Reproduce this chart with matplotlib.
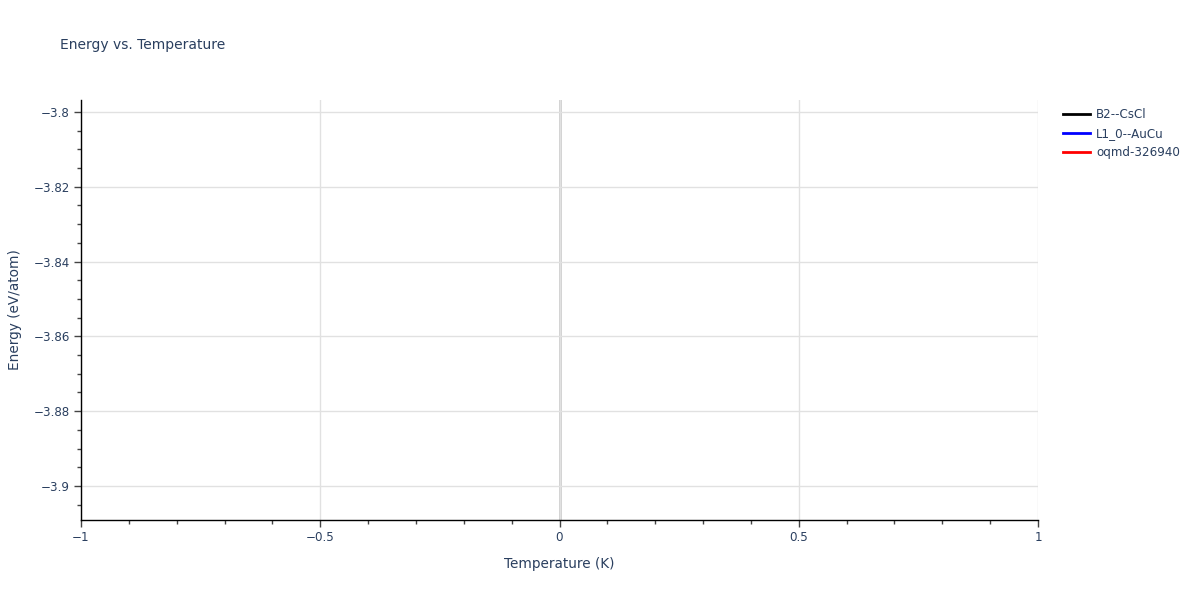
import matplotlib
matplotlib.use('Agg')
import matplotlib.pyplot as plt
from matplotlib.ticker import MultipleLocator, FuncFormatter

# one energy point per structure, all at T = 0 K
series_names = ["B2--CsCl", "L1_0--AuCu", "oqmd-326940"]
series_colors = ["black", "blue", "red"]
temperatures = [[0.0], [0.0], [0.0]]
energies = [[-3.802], [-3.904], [-3.851]]

TEXT = "#2a3f5f"
GRID = "#e1e1e1"

plt.rcParams['font.family'] = ['DejaVu Sans']
plt.rcParams['axes.unicode_minus'] = True

fig = plt.figure(figsize=(12, 6), dpi=100)
ax = fig.add_axes([81 / 1200, 80 / 600, (1038 - 81) / 1200, 420 / 600])

for name, color, t, e in zip(series_names, series_colors, temperatures, energies):
    ax.plot(t, e, color=color, lw=2, label=name)

ax.set_xlim(-1, 1)
ax.set_ylim(-3.9091, -3.7968)

ax.xaxis.set_major_locator(MultipleLocator(0.5))
ax.xaxis.set_minor_locator(MultipleLocator(0.1))
ax.yaxis.set_major_locator(MultipleLocator(0.02))
ax.yaxis.set_minor_locator(MultipleLocator(0.005))
fmt = FuncFormatter(lambda v, p: ("%g" % round(v, 6)).replace("-", "\u2212"))
ax.xaxis.set_major_formatter(fmt)
ax.yaxis.set_major_formatter(fmt)

ax.grid(True, which='major', color=GRID, lw=1)
ax.axvline(0, color="#cccccc", lw=2, zorder=0.5)
ax.set_axisbelow(True)

for side in ("top", "right"):
    ax.spines[side].set_visible(False)
for side in ("left", "bottom"):
    ax.spines[side].set_color("black")
    ax.spines[side].set_linewidth(1)

ax.tick_params(which='major', direction='out', length=5, width=1, color="#444444",
               labelcolor=TEXT, labelsize=8.6, pad=3)
ax.tick_params(which='minor', direction='out', length=3, width=1, color="#444444")

ax.set_xlabel("Temperature (K)", color=TEXT, fontsize=9.8, labelpad=9)
ax.set_ylabel("Energy (eV/atom)", color=TEXT, fontsize=9.8, labelpad=8)

fig.text(60 / 1200, 1 - 45 / 600, "Energy vs. Temperature", color=TEXT,
         fontsize=10, va='center', ha='left')

fig.legend(loc='upper left', bbox_to_anchor=(1058 / 1200, 1 - 103 / 600),
           frameon=False, fontsize=8.6, labelcolor=TEXT, handlelength=2.3,
           handletextpad=0.5, labelspacing=0.5, borderaxespad=0)

fig.savefig("out.png", dpi=100)
